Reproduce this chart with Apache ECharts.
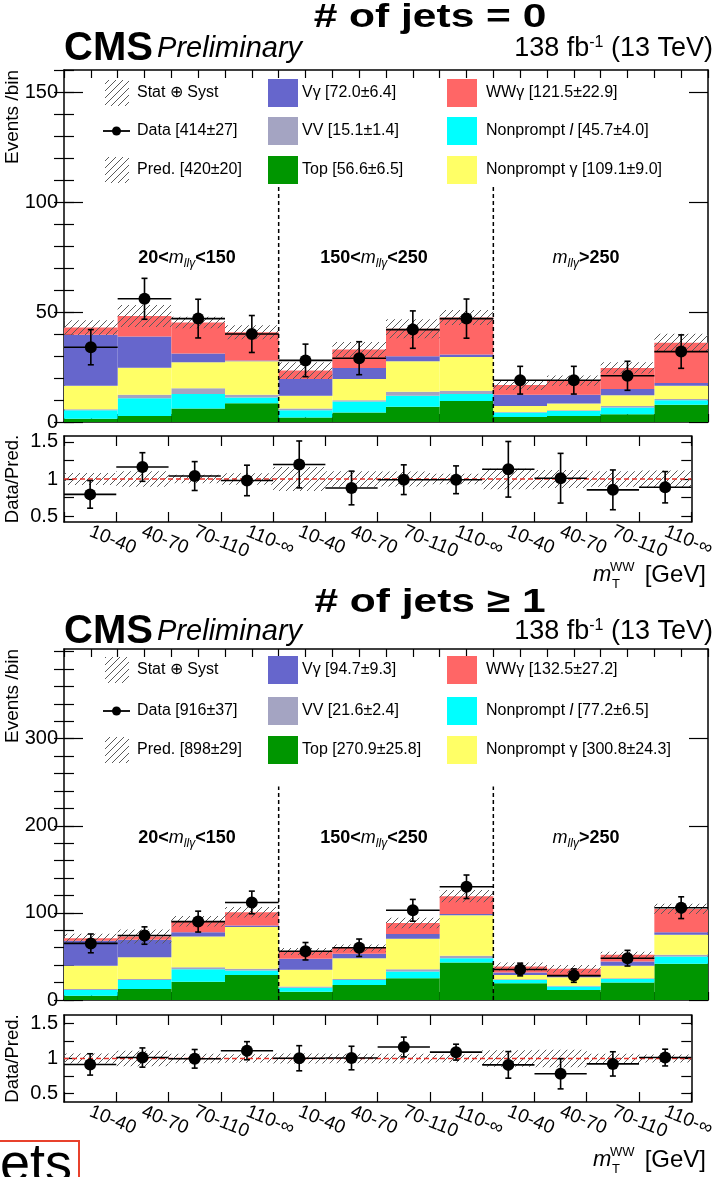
<!DOCTYPE html>
<html>
<head>
<meta charset="utf-8">
<script src="https://cdn.jsdelivr.net/npm/echarts@6/dist/echarts.min.js"></script>
<style>
  html, body { margin: 0; padding: 0; background: #fff; }
  #chart { width: 718px; height: 1177px; }
</style>
</head>
<body>
<div id="chart"></div>
<script>
// ---- bin labels (m_T^WW ranges, repeated for the three m_llγ regions) ----
const BIN_LABELS = ['10-40', '40-70', '70-110', '110-∞', '10-40', '40-70', '70-110', '110-∞', '10-40', '40-70', '70-110', '110-∞'];

// ---- # of jets = 0 : expected yields per bin (stacked from the bottom) ----
const j0Top          = [1.5, 2.7, 6.1, 8.5, 2.0, 4.3, 6.9, 9.5, 2.3, 2.7, 3.5, 7.8];
const j0NonpromptLep = [3.8, 8.1, 6.6, 2.6, 3.3, 5.0, 5.0, 3.2, 2.0, 2.3, 3.1, 2.1];
const j0VV           = [0.5, 1.6, 2.6, 1.3, 0.8, 0.6, 1.8, 1.5, 0.3, 0.3, 0.7, 0.5];
const j0NonpromptPho = [10.7, 12.3, 11.9, 15.2, 5.8, 9.6, 13.9, 15.3, 2.7, 3.1, 4.9, 6.1];
const j0Vgamma       = [23.2, 14.2, 3.9, 0.4, 7.6, 5.1, 2.3, 1.2, 5.1, 4.0, 2.8, 1.2];
const j0WWgamma      = [3.2, 9.3, 14.1, 12.8, 3.9, 8.4, 12.5, 16.8, 4.4, 6.4, 9.6, 18.3];
const j0PredErr      = [3.4, 5.0, 2.6, 3.2, 3.8, 3.4, 4.3, 3.4, 2.3, 2.3, 2.6, 4.1];
const j0Data         = [34, 56, 47, 40, 28, 29, 42, 47, 19, 19, 21, 32];
const j0DataErr      = [8.0, 9.3, 8.8, 8.4, 7.4, 7.5, 8.5, 8.9, 6.3, 6.3, 6.6, 7.6];
const j0Legend = ['Stat ⊕ Syst', 'Data [414±27]', 'Pred. [420±20]',
                  'Vγ [72.0±6.4]', 'VV [15.1±1.4]', 'Top [56.6±6.5]',
                  'WWγ [121.5±22.9]', 'Nonprompt {i|l} [45.7±4.0]', 'Nonprompt γ [109.1±9.0]'];

// ---- # of jets >= 1 ----
const j1Top          = [5.0, 12.7, 21.0, 28.8, 9.6, 17.3, 25.0, 43.0, 19.2, 11.5, 20.0, 41.5];
const j1NonpromptLep = [6.5, 10.3, 14.4, 5.0, 4.6, 5.7, 7.7, 5.0, 3.8, 3.9, 4.2, 8.5];
const j1VV           = [1.2, 1.2, 2.3, 2.0, 1.2, 1.2, 2.7, 2.8, 0.8, 1.1, 0.8, 2.0];
const j1NonpromptPho = [26.5, 25.0, 35.3, 48.0, 19.2, 23.8, 35.0, 46.5, 5.0, 9.7, 14.2, 23.0];
const j1Vgamma       = [28.8, 20.0, 4.7, 1.6, 12.7, 5.0, 5.4, 1.5, 2.7, 2.3, 5.0, 2.7];
const j1WWgamma      = [3.0, 3.8, 12.7, 15.4, 8.5, 6.6, 12.7, 20.4, 7.0, 7.3, 7.8, 26.9];
const j1PredErr      = [5.0, 8.0, 6.0, 6.0, 4.0, 4.0, 6.0, 7.0, 4.5, 4.5, 3.5, 6.0];
const j1Data         = [65, 74, 90, 112, 56, 60, 103, 130, 35, 28, 48, 106];
const j1DataErr      = [10.8, 10.0, 12.0, 13.0, 10.0, 10.0, 12.5, 13.5, 7.3, 7.7, 9.0, 12.5];
const j1Legend = ['Stat ⊕ Syst', 'Data [916±37]', 'Pred. [898±29]',
                  'Vγ [94.7±9.3]', 'VV [21.6±2.4]', 'Top [270.9±25.8]',
                  'WWγ [132.5±27.2]', 'Nonprompt {i|l} [77.2±6.5]', 'Nonprompt γ [300.8±24.3]'];

// ---- styling ----
const FONT = '"Liberation Sans", Arial, Helvetica, sans-serif';
// stack order bottom -> top: Top, Nonprompt l, VV, Nonprompt γ, Vγ, WWγ
const STACK_COLORS = ['#009600', '#00ffff', '#a4a4c2', '#ffff66', '#6666cc', '#ff6666'];
const LEGEND_BOX_COLORS = ['#6666cc', '#a4a4c2', '#009600', '#ff6666', '#00ffff', '#ffff66'];

function hatch(color, step) {
  const c = document.createElement('canvas');
  c.width = step; c.height = step;
  const g = c.getContext('2d');
  g.strokeStyle = color; g.lineWidth = 1;
  g.beginPath();
  g.moveTo(-1, step + 1); g.lineTo(step + 1, -1);
  g.stroke();
  return { image: c, repeat: 'repeat' };
}
const HATCH = hatch('#5a5a5a', 7);

// ---- panel layout (pixels) ----
const PANELS = [
  { stacks: [j0Top, j0NonpromptLep, j0VV, j0NonpromptPho, j0Vgamma, j0WWgamma],
    data: j0Data, dataErr: j0DataErr, predErr: j0PredErr, legend: j0Legend,
    title: '# of jets = 0',
    mainTop: 70, mainH: 352, ratioTop: 436, ratioH: 86,
    yMax: 160, yMajor: [0, 50, 100, 150], yMinor: [0,10,20,30,40,50,60,70,80,90,100,110,120,130,140,150,160],
    rMin: 0.42, rMax: 1.58, sepTop: 108,
    titleY: 18, cmsY: 49, regionY: 258, mtY: 575, legendRows: [93, 131, 170] },
  { stacks: [j1Top, j1NonpromptLep, j1VV, j1NonpromptPho, j1Vgamma, j1WWgamma],
    data: j1Data, dataErr: j1DataErr, predErr: j1PredErr, legend: j1Legend,
    title: '# of jets ≥ 1',
    mainTop: 649, mainH: 351, ratioTop: 1015, ratioH: 87,
    yMax: 403, yMajor: [0, 100, 200, 300], yMinor: [0,20,40,60,80,100,120,140,160,180,200,220,240,260,280,300,320,340,360,380,400],
    rMin: 0.38, rMax: 1.62, sepTop: 245,
    titleY: 603, cmsY: 632, regionY: 838, mtY: 1160, legendRows: [670, 711, 750] }
];
const GRID_LEFT = 64, GRID_RIGHT = 10;

const grids = [], xAxes = [], yAxes = [], series = [], graphics = [];

function xAxisPair(gi, ticks, tickLen, labels) {
  const common = {
    type: 'value', gridIndex: gi, min: 0, max: 12,
    axisLine: { show: true, onZero: false, lineStyle: { color: '#000', width: 1.5 } },
    splitLine: { show: false },
    axisTick: { show: true, inside: true, length: tickLen, customValues: ticks, lineStyle: { color: '#000', width: 1.2 } }
  };
  const bottom = Object.assign({}, common, { position: 'bottom',
    axisLabel: labels ? {
      show: true, customValues: [0.5,1.5,2.5,3.5,4.5,5.5,6.5,7.5,8.5,9.5,10.5,11.5],
      formatter: v => BIN_LABELS[Math.floor(v)], rotate: -22, margin: 9,
      fontSize: 19, color: '#000', fontFamily: FONT
    } : { show: false } });
  const top = Object.assign({}, common, { position: 'top', axisLabel: { show: false } });
  xAxes.push(bottom, top);
}

function yAxisQuad(gi, min, max, major, minor, majorLen, minorLen, labelVals) {
  const line = { show: true, onZero: false, lineStyle: { color: '#000', width: 1.5 } };
  const mk = (pos, ticks, len, showLine, showLabel) => ({
    type: 'value', gridIndex: gi, position: pos, min, max,
    axisLine: showLine ? line : { show: false },
    splitLine: { show: false },
    axisTick: { show: true, inside: true, length: len, customValues: ticks, lineStyle: { color: '#000', width: 1.2 } },
    axisLabel: showLabel ? { show: true, customValues: labelVals, fontSize: 20, color: '#000', fontFamily: FONT, margin: 6 } : { show: false }
  });
  yAxes.push(mk('left', major, majorLen, true, true), mk('left', minor, minorLen, false, false),
             mk('right', major, majorLen, true, false), mk('right', minor, minorLen, false, false));
}

// rectangles spanning one bin, from value(1) up to value(2)
function binRect(fill) {
  return function (params, api) {
    const i = api.value(0);
    const p0 = api.coord([i, api.value(2)]);
    const p1 = api.coord([i + 1, api.value(1)]);
    return { type: 'rect', shape: { x: p0[0], y: p0[1], width: p1[0] - p0[0], height: p1[1] - p0[1] },
             style: { fill: fill, stroke: null } };
  };
}

function dataPoint(params, api) {
  const i = api.value(0), v = api.value(1), e = api.value(2);
  const l = api.coord([i, v]), r = api.coord([i + 1, v]);
  const cx = (l[0] + r[0]) / 2, cy = l[1];
  const hi = api.coord([i + 0.5, v + e])[1], lo = api.coord([i + 0.5, v - e])[1];
  const st = { stroke: '#000', lineWidth: 1.6 };
  return { type: 'group', children: [
    { type: 'line', shape: { x1: l[0], y1: cy, x2: r[0], y2: cy }, style: st },
    { type: 'line', shape: { x1: cx, y1: hi, x2: cx, y2: lo }, style: st },
    { type: 'line', shape: { x1: cx - 3, y1: hi, x2: cx + 3, y2: hi }, style: st },
    { type: 'line', shape: { x1: cx - 3, y1: lo, x2: cx + 3, y2: lo }, style: st },
    { type: 'circle', shape: { cx: cx, cy: cy, r: 6 }, style: { fill: '#000' } }
  ] };
}

function separator(params, api) {
  const x = api.value(0);
  const a = api.coord([x, 0]), b = api.coord([x, api.value(1)]);
  return { type: 'line', shape: { x1: a[0], y1: a[1], x2: b[0], y2: b[1] },
           style: { stroke: '#000', lineWidth: 1.5, lineDash: [4, 3] } };
}

function unityLine(params, api) {
  const a = api.coord([0, 1]), b = api.coord([12, 1]);
  return { type: 'line', shape: { x1: a[0], y1: a[1], x2: b[0], y2: b[1] },
           style: { stroke: '#e8302a', lineWidth: 1.5, lineDash: [5, 3] } };
}

function txt(x, y, text, style, extra) {
  return Object.assign({ type: 'text', x: x, y: y, silent: true, z: 100,
    style: Object.assign({ text: text, fill: '#000', fontFamily: FONT, fontSize: 15,
                           align: 'left', verticalAlign: 'middle' }, style || {}) }, extra || {});
}

const HALF_BINS = [], FULL_BINS = [];
for (let k = 0; k <= 24; k++) HALF_BINS.push(k / 2);
for (let k = 0; k <= 12; k++) FULL_BINS.push(k);

PANELS.forEach((p, pi) => {
  const gMain = pi * 2, gRatio = pi * 2 + 1;
  grids.push({ left: GRID_LEFT, right: GRID_RIGHT, top: p.mainTop, height: p.mainH });
  grids.push({ left: GRID_LEFT, right: GRID_RIGHT, top: p.ratioTop, height: p.ratioH });

  xAxisPair(gMain, HALF_BINS, 8, false);
  xAxisPair(gRatio, FULL_BINS, 10, true);
  yAxisQuad(gMain, 0, p.yMax, p.yMajor, p.yMinor, 19, 10, p.yMajor);
  yAxisQuad(gRatio, p.rMin, p.rMax, [0.5, 0.75, 1, 1.25, 1.5], [], 10, 0, [0.5, 1, 1.5]);

  const xm = gMain * 2, ym = gMain * 4, xr = gRatio * 2, yr = gRatio * 4;

  // stacked expectation
  const cum = new Array(12).fill(0);
  p.stacks.forEach((vals, k) => {
    const items = vals.map((v, i) => [i, cum[i], cum[i] + v]);
    vals.forEach((v, i) => { cum[i] += v; });
    series.push({ type: 'custom', xAxisIndex: xm, yAxisIndex: ym, data: items,
                  renderItem: binRect(STACK_COLORS[k]), silent: true, z: 2, clip: true });
  });
  const total = cum.slice();

  // total uncertainty band
  series.push({ type: 'custom', xAxisIndex: xm, yAxisIndex: ym,
    data: total.map((t, i) => [i, t - p.predErr[i], t + p.predErr[i]]),
    renderItem: binRect(HATCH), silent: true, z: 3, clip: true });

  // region separators
  series.push({ type: 'custom', xAxisIndex: xm, yAxisIndex: ym,
    data: [[4, p.sepTop], [8, p.sepTop]], renderItem: separator, silent: true, z: 4 });

  // data
  series.push({ type: 'custom', xAxisIndex: xm, yAxisIndex: ym,
    data: p.data.map((d, i) => [i, d, p.dataErr[i]]), renderItem: dataPoint, silent: true, z: 10 });

  // ratio panel
  series.push({ type: 'custom', xAxisIndex: xr, yAxisIndex: yr,
    data: total.map((t, i) => [i, 1 - p.predErr[i] / t, 1 + p.predErr[i] / t]),
    renderItem: binRect(HATCH), silent: true, z: 3, clip: true });
  series.push({ type: 'custom', xAxisIndex: xr, yAxisIndex: yr, data: [[0]],
    renderItem: unityLine, silent: true, z: 4 });
  series.push({ type: 'custom', xAxisIndex: xr, yAxisIndex: yr,
    data: p.data.map((d, i) => [i, d / total[i], p.dataErr[i] / total[i]]),
    renderItem: dataPoint, silent: true, z: 10, clip: true });

  // ---- texts ----
  graphics.push(txt(430, p.titleY, p.title, { fontSize: 34, fontWeight: 'bold', align: 'center' }, { scaleX: 1.25 }));
  graphics.push(txt(64, p.cmsY, '{b|CMS} {i|Preliminary}', {
    rich: { b: { fontSize: 40, fontWeight: 'bold', fontFamily: FONT },
            i: { fontSize: 29, fontStyle: 'italic', fontFamily: FONT } } }));
  graphics.push(txt(713, p.cmsY, '138 fb{s|-1} (13 TeV)', { fontSize: 27, align: 'right',
    rich: { s: { fontSize: 16, padding: [0, 0, 12, 0], fontFamily: FONT } } }));
  graphics.push(txt(13, p.mainTop, 'Events /bin', { fontSize: 19, align: 'right' }, { rotation: Math.PI / 2 }));
  graphics.push(txt(13, p.ratioTop + p.ratioH / 2, 'Data/Pred.', { fontSize: 18.5, align: 'center' }, { rotation: Math.PI / 2 }));

  const regRich = { b: { fontSize: 18, fontWeight: 'bold', fontFamily: FONT },
                    m: { fontSize: 18, fontStyle: 'italic', fontFamily: FONT },
                    s: { fontSize: 12, fontStyle: 'italic', fontFamily: FONT, padding: [12, 0, 0, 0] } };
  graphics.push(txt(187, p.regionY, '{b|20<}{m|m}{s|llγ}{b|<150}', { align: 'center', rich: regRich }));
  graphics.push(txt(374, p.regionY, '{b|150<}{m|m}{s|llγ}{b|<250}', { align: 'center', rich: regRich }));
  graphics.push(txt(586, p.regionY, '{m|m}{s|llγ}{b|>250}', { align: 'center', rich: regRich }));

  // m_T^WW [GeV]
  graphics.push(txt(593, p.mtY, 'm', { fontSize: 22, fontStyle: 'italic' }));
  graphics.push(txt(610, p.mtY - 8, 'WW', { fontSize: 13 }));
  graphics.push(txt(612, p.mtY + 9, 'T', { fontSize: 13 }));
  graphics.push(txt(706, p.mtY, '[GeV]', { fontSize: 24, align: 'right' }));

  // ---- legend ----
  const rows = p.legendRows;
  const colSym = [103, 268, 447], colTxt = [137, 302, 486];
  const legRich = { i: { fontStyle: 'italic', fontSize: 16, fontFamily: FONT } };
  // column 1
  graphics.push({ type: 'rect', silent: true, z: 100, shape: { x: 105, y: rows[0] - 13, width: 24, height: 26 }, style: { fill: HATCH } });
  graphics.push({ type: 'line', silent: true, z: 100, shape: { x1: colSym[0], y1: rows[1], x2: colSym[0] + 27, y2: rows[1] }, style: { stroke: '#000', lineWidth: 1.8 } });
  graphics.push({ type: 'circle', silent: true, z: 100, shape: { cx: colSym[0] + 13.5, cy: rows[1], r: 4.5 }, style: { fill: '#000' } });
  graphics.push({ type: 'rect', silent: true, z: 100, shape: { x: 105, y: rows[2] - 13, width: 24, height: 26 }, style: { fill: HATCH } });
  for (let r = 0; r < 3; r++) {
    graphics.push(txt(colTxt[0], rows[r], p.legend[r], { fontSize: 16, rich: legRich }));
  }
  // columns 2 and 3
  for (let c = 0; c < 2; c++) {
    for (let r = 0; r < 3; r++) {
      const idx = 3 + c * 3 + r;
      graphics.push({ type: 'rect', silent: true, z: 100,
        shape: { x: colSym[c + 1], y: rows[r] - 14, width: 30, height: 28 },
        style: { fill: LEGEND_BOX_COLORS[idx - 3] } });
      graphics.push(txt(colTxt[c + 1], rows[r], p.legend[idx], { fontSize: 16, rich: legRich }));
    }
  }
});

// framed caption fragment at the lower left edge
graphics.push({ type: 'rect', silent: true, z: 100, shape: { x: -10, y: 1141, width: 89, height: 60 },
                style: { fill: 'none', stroke: '#e8412c', lineWidth: 2 } });
graphics.push(txt(72, 1193, 'jets', { fontSize: 54, align: 'right', verticalAlign: 'bottom' }));

const chart = echarts.init(document.getElementById('chart'), null, { renderer: 'canvas' });
chart.setOption({
  animation: false,
  backgroundColor: '#fff',
  grid: grids,
  xAxis: xAxes,
  yAxis: yAxes,
  series: series,
  graphic: { elements: graphics }
});
</script>
</body>
</html>
